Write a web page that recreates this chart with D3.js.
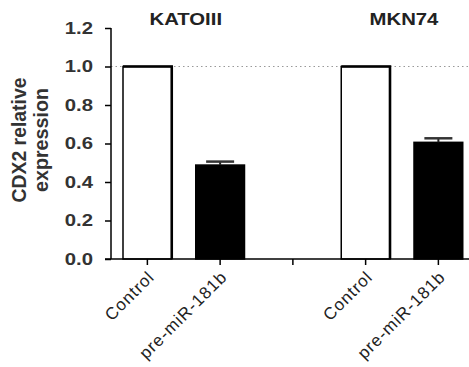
<!DOCTYPE html>
<html lang="en">
<head>
    <meta charset="UTF-8">
    <title>CDX2 relative expression</title>
    <script src="https://cdn.jsdelivr.net/npm/d3@7"></script>
    <style>
        body { margin: 0; background: #fff; }
        svg { position: absolute; left: 0px; top: 0px; }
        text { font-family: "Liberation Sans", Arial, sans-serif; }
    </style>
</head>
<body>
    <svg id="chart" width="469" height="367"></svg>
    <script>
        // values
        var groups = ["KATOIII", "MKN74"]
        var conditions = ["Control", "pre-miR-181b"]
        var means = [[1.0, 0.488], [1.0, 0.606]]
        var sems = [[0, 0.018], [0, 0.021]]
        var yTicks = [0.0, 0.2, 0.4, 0.6, 0.8, 1.0, 1.2]
        var refLine = 1.0

        var svg = d3.select("#chart")
        var stretch = 1.27   // the picture's text is wider than the font's

        // 5 slots: two bars, a gap, two bars
        var slots = []
        groups.forEach(function(g, gi) {
            if (gi > 0) slots.push("gap" + gi)
            conditions.forEach(function(c) { slots.push(g + "|" + c) })
        })
        var bars = []
        groups.forEach(function(g, gi) {
            conditions.forEach(function(c, ci) {
                bars.push({group: g, cond: c, ci: ci, key: g + "|" + c, mean: means[gi][ci], sem: sems[gi][ci]})
            })
        })

        var x = d3.scaleBand().domain(slots).range([111, 474.75]).paddingInner(0.33).paddingOuter(0.165)
        var y = d3.scaleLinear().domain([0, 1.2]).range([259, 28])
        var center = function(k) { return x(k) + x.bandwidth() / 2 }

        // dotted reference line at 1.0
        svg.append("line")
            .attr("x1", 111).attr("x2", 469)
            .attr("y1", y(refLine)).attr("y2", y(refLine))
            .attr("stroke", "#999").attr("stroke-width", 1)
            .style("stroke-dasharray", "1.5 3")

        // bars
        svg.selectAll("rect.bar").data(bars).enter().append("rect")
            .attr("class", "bar")
            .attr("x", function(d) { return x(d.key) })
            .attr("width", x.bandwidth())
            .attr("y", function(d) { return y(d.mean) })
            .attr("height", function(d) { return y(0) - y(d.mean) })
            .attr("fill", function(d) { return d.ci == 0 ? "#fff" : "#000" })
            .attr("stroke", "#000")
            .attr("stroke-width", 1.5)

        // heavier top and right edge on the open bars
        var open = bars.filter(function(d) { return d.ci == 0 })
        svg.selectAll("path.edge").data(open).enter().append("path")
            .attr("class", "edge")
            .attr("d", function(d) {
                var x0 = x(d.key), x1 = x(d.key) + x.bandwidth()
                return "M" + x0 + "," + y(d.mean) + "H" + x1 + "V" + y(0)
            })
            .attr("fill", "none").attr("stroke", "#000").attr("stroke-width", 2.6)

        // error bars (upper only)
        var err = bars.filter(function(d) { return d.sem > 0 })
        svg.selectAll("line.whisker").data(err).enter().append("line")
            .attr("x1", function(d) { return center(d.key) })
            .attr("x2", function(d) { return center(d.key) })
            .attr("y1", function(d) { return y(d.mean) })
            .attr("y2", function(d) { return y(d.mean + d.sem) })
            .attr("stroke", "#222").attr("stroke-width", 2)
        svg.selectAll("line.cap").data(err).enter().append("line")
            .attr("x1", function(d) { return center(d.key) - 14 })
            .attr("x2", function(d) { return center(d.key) + 14 })
            .attr("y1", function(d) { return y(d.mean + d.sem) })
            .attr("y2", function(d) { return y(d.mean + d.sem) })
            .attr("stroke", "#333").attr("stroke-width", 2.5)

        // y axis
        var yAxis = svg.append("g").attr("transform", "translate(111,0)")
            .call(d3.axisLeft(y).tickValues(yTicks).tickSize(6).tickFormat(""))
        yAxis.select(".domain").attr("d", "M0," + y(1.2) + "V" + y(0)).attr("stroke-width", 1.5)
        yAxis.selectAll(".tick line").attr("stroke-width", 1.5)

        svg.selectAll("text.ytick").data(yTicks).enter().append("text")
            .attr("class", "ytick")
            .attr("transform", function(d) { return "translate(93," + y(d) + ") scale(" + stretch + ",1)" })
            .attr("text-anchor", "end").attr("dy", "0.36em")
            .attr("font-size", 16).attr("font-weight", "bold").attr("fill", "#333")
            .text(function(d) { return d3.format(".1f")(d) })

        // x axis
        var xAxis = svg.append("g").attr("transform", "translate(0," + y(0) + ")")
            .call(d3.axisBottom(x).tickSize(6).tickFormat(""))
        xAxis.select(".domain").attr("d", "M105,0H469").attr("stroke-width", 1.5)
        xAxis.selectAll(".tick line").attr("stroke-width", 1.5)

        svg.selectAll("text.xlab").data(bars).enter().append("text")
            .attr("class", "xlab")
            .attr("transform", function(d) {
                return "translate(" + (center(d.key) + 8) + "," + (y(0) + 19) + ") rotate(-45)"
            })
            .attr("text-anchor", "end")
            .attr("font-size", 17).attr("fill", "#222")
            .style("letter-spacing", "1px")
            .text(function(d) { return d.cond })

        // group titles
        svg.selectAll("text.title").data(groups).enter().append("text")
            .attr("class", "title")
            .attr("transform", function(g) {
                var cx = (center(g + "|" + conditions[0]) + center(g + "|" + conditions[1])) / 2
                return "translate(" + (cx + 2) + ",25) scale(" + stretch + ",1)"
            })
            .attr("text-anchor", "middle")
            .attr("font-size", 16).attr("font-weight", "bold").attr("fill", "#222")
            .text(function(g) { return g })

        // y label
        var ylab = ["CDX2 relative", "expression"]
        var ylen = [125, 104]
        svg.selectAll("text.ylab").data(ylab).enter().append("text")
            .attr("class", "ylab")
            .attr("transform", function(d, i) { return "translate(" + (26 + i * 22) + ",140) scale(1.2,1) rotate(-90)" })
            .attr("text-anchor", "middle")
            .attr("textLength", function(d, i) { return ylen[i] })
            .attr("lengthAdjust", "spacingAndGlyphs")
            .attr("font-size", 17).attr("font-weight", "bold").attr("fill", "#333")
            .text(function(d) { return d })
    </script>
</body>
</html>
